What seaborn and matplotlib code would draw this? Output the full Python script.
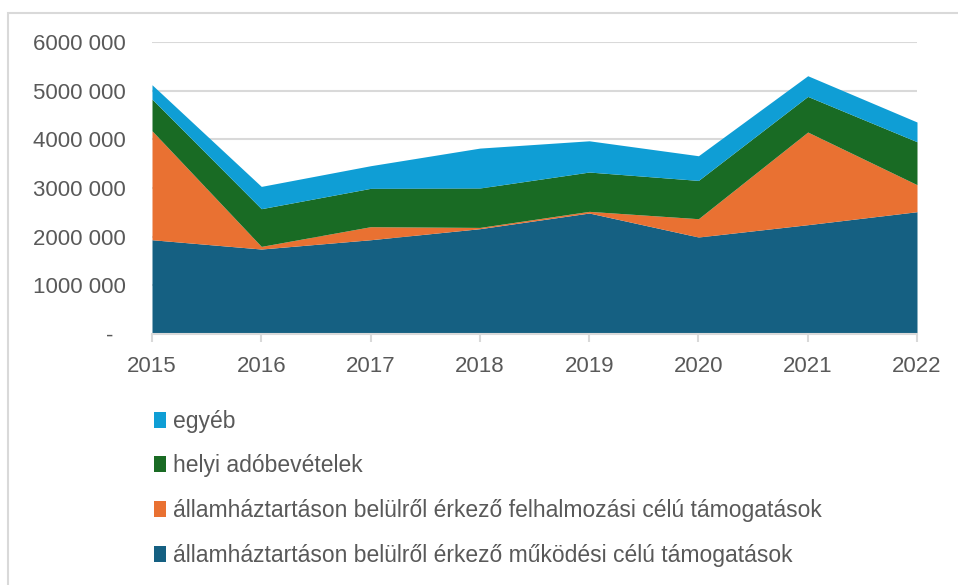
import matplotlib
matplotlib.use("Agg")
import matplotlib.pyplot as plt
from matplotlib.patches import Rectangle, Patch
import numpy as np
import pandas as pd
import seaborn as sns

# data (thousand HUF style units)
years = [2015, 2016, 2017, 2018, 2019, 2020, 2021, 2022]
mukodesi = [1937, 1746, 1937, 2164, 2486, 1993, 2246, 2513]
felhalmozasi = [2240, 54, 268, 26, 34, 376, 1904, 555]
helyi_ado = [651, 775, 788, 810, 808, 787, 732, 883]
egyeb = [294, 458, 465, 820, 642, 507, 425, 405]

names = [
    "államháztartáson belülről érkező működési célú támogatások",
    "államháztartáson belülről érkező felhalmozási célú támogatások",
    "helyi adóbevételek",
    "egyéb",
]
colors = ["#156082", "#E97132", "#196B24", "#0F9ED5"]

ytick_vals = [0, 1000000, 2000000, 3000000, 4000000, 5000000, 6000000]
ytick_labels = ["-  ", "1000 000", "2000 000", "3000 000", "4000 000", "5000 000", "6000 000"]

df = pd.DataFrame({"year": years, names[0]: mukodesi, names[1]: felhalmozasi,
                   names[2]: helyi_ado, names[3]: egyeb})
for n in names:
    df[n] = df[n] * 1000

sns.set_theme(style="white")
plt.rcParams["font.family"] = ["Liberation Sans", "DejaVu Sans"]
txt = "#595959"
grid = "#d9d9d9"

fig = plt.figure(figsize=(9.58, 5.85), dpi=100)
ax = fig.add_axes([152 / 958, 1 - 334 / 585, (917 - 152) / 958, (334 - 42) / 585])

ax.stackplot(df["year"], [df[n] for n in names], colors=colors, linewidth=0, zorder=2)

ax.set_xlim(2015, 2022)
ax.set_ylim(0, 6000000)
ax.set_xticks(years)
ax.set_xticklabels([str(y) for y in years])
ax.set_yticks(ytick_vals)
ax.set_yticklabels(ytick_labels)
ax.yaxis.grid(True, color=grid, linewidth=1.5, zorder=0)
ax.set_axisbelow(True)
sns.despine(ax=ax, left=True, right=True, top=True)
ax.spines["bottom"].set_color(grid)
ax.spines["bottom"].set_linewidth(1.5)
ax.tick_params(axis="x", length=6, width=1.5, color=grid, labelsize=16, labelcolor=txt, pad=10, bottom=True)
ax.tick_params(axis="y", length=0, labelsize=16, labelcolor=txt, pad=19)
ax.set_xlabel("")
ax.set_ylabel("")

# legend, reversed order like the original
handles = [Patch(facecolor=colors[i], edgecolor="none") for i in range(3, -1, -1)]
labels = [names[i] for i in range(3, -1, -1)]
fig.legend(handles, labels, loc="upper left", bbox_to_anchor=(133 / 958, 1 - 389 / 585),
           frameon=False, fontsize=16.5, labelcolor=txt, handlelength=0.55, handleheight=0.7,
           handletextpad=0.3, labelspacing=0.95)

# outer frame around the chart
fig.patches.append(Rectangle((8 / 958, -0.05), 1.1, 1 - 13 / 585 + 0.05, transform=fig.transFigure,
                             fill=False, edgecolor=grid, linewidth=1.5, clip_on=False))

fig.savefig("out.png", dpi=100)
